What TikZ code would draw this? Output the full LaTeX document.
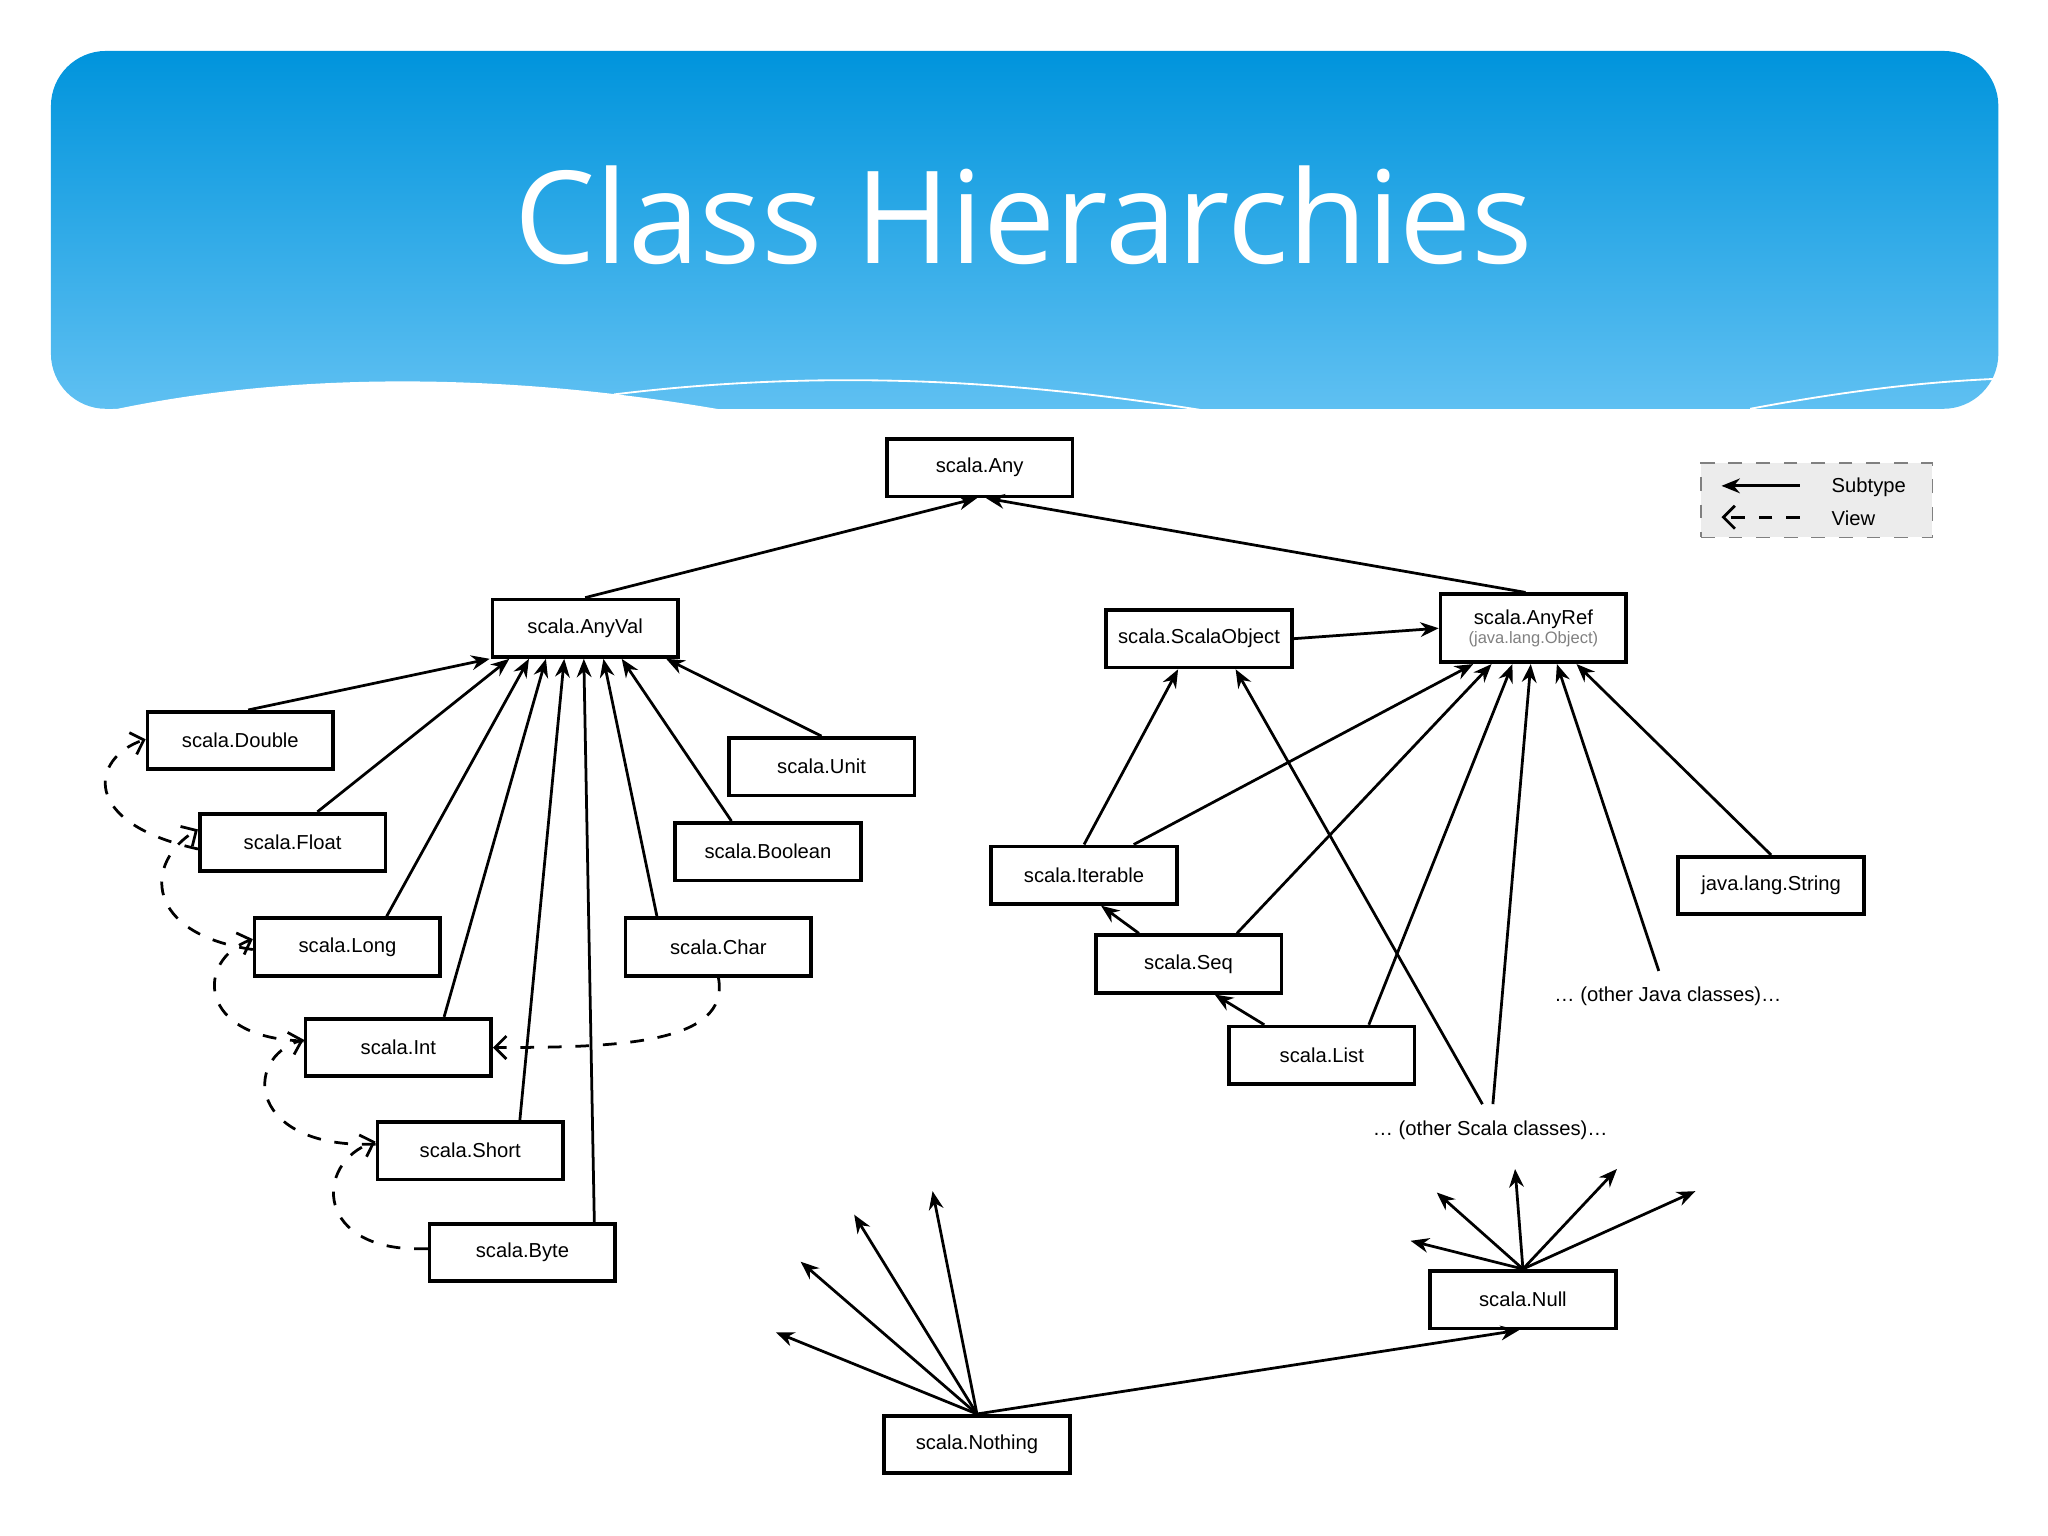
\documentclass[tikz,border=0pt]{standalone}
\usepackage{fontspec}
\setmainfont{Liberation Sans}
\newfontfamily\titlefont{Open Sans}
\usetikzlibrary{arrows.meta, positioning}
\begin{document}
\begin{tikzpicture}[x=0.01cm, y=-0.01cm, font=\fontsize{4.4}{5}\selectfont,
  cls/.style={draw, thick, minimum width=1.42cm, minimum height=0.44cm, inner sep=0pt, fill=white},
  sub/.style={-{Stealth[length=4pt,width=3.2pt]}, semithick},
  view/.style={-{Straight Barb[length=2.5pt]}, dashed, semithick}]
\useasboundingbox (0,0) rectangle (1568,1176);
% header band
\shade[top color={rgb,255:red,0;green,148;blue,220}, bottom color={rgb,255:red,95;green,192;blue,242}, rounded corners=12]
  (39,313) -- (39,39) -- (1530,39) -- (1530,313) -- cycle;
\fill[white] (39,315) -- (90,313) .. controls (250,280) and (420,290) .. (560,315) -- cycle;
\draw[white, thin] (470,302) .. controls (650,280) and (800,295) .. (920,314);
\draw[white, thin] (1340,313) .. controls (1420,298) and (1480,292) .. (1530,290);
\node[text=white, font=\titlefont\fontsize{28}{30}\selectfont] at (784,165) {Class Hierarchies};
% classes
\node[cls] (Any) at (750,358) {scala.Any};
\node[cls] (AnyVal) at (448,481) {scala.AnyVal};
\node[cls] (ScalaObject) at (918,489) {scala.ScalaObject};
\node[cls, minimum height=0.52cm, align=center] (AnyRef) at (1174,481) {scala.AnyRef\\[-1pt]{\fontsize{3.6}{4}\selectfont\color{gray}(java.lang.Object)}};
\node[cls] (Double) at (184,567) {scala.Double};
\node[cls] (Float) at (224,645) {scala.Float};
\node[cls] (Unit) at (629,587) {scala.Unit};
\node[cls] (Boolean) at (588,652) {scala.Boolean};
\node[cls] (Long) at (266,725) {scala.Long};
\node[cls] (Char) at (550,725) {scala.Char};
\node[cls] (Int) at (305,802) {scala.Int};
\node[cls] (Short) at (360,881) {scala.Short};
\node[cls] (Byte) at (400,959) {scala.Byte};
\node[cls] (Iterable) at (830,670) {scala.Iterable};
\node[cls] (Seq) at (910,738) {scala.Seq};
\node[cls] (List) at (1012,808) {scala.List};
\node[cls] (String) at (1356,678) {java.lang.String};
\node[cls] (Null) at (1166,995) {scala.Null};
\node[cls] (Nothing) at (748,1106) {scala.Nothing};
\node (OtherJava) at (1277,763) {\dots\ (other Java classes)\dots};
\node (OtherScala) at (1141,865) {\dots\ (other Scala classes)\dots};
% legend
\node[draw=gray, dashed, fill=gray!15, minimum width=1.77cm, minimum height=0.57cm] (Legend) at (1391,383) {};
\coordinate (LegA) at (1378,372);
\coordinate (LegB) at (1318,372);
\coordinate (LegC) at (1378,396);
\coordinate (LegD) at (1318,396);
\draw[sub] (LegA) -- (LegB);
\draw[view] (LegC) -- (LegD);
\node[anchor=west] (LegSub) at (1390,373) {Subtype};
\node[anchor=west] (LegView) at (1390,397) {View};
% subtype arrows
\draw[sub] (AnyVal.north) -- ([xshift=-0.02cm]Any.south);
\draw[sub] ([xshift=-0.06cm]AnyRef.north) -- ([xshift=0.05cm]Any.south);
\draw[sub] ([xshift=0.06cm]Double.north) -- ([xshift=-0.73cm]AnyVal.south);
\draw[sub] ([xshift=0.19cm]Float.north) -- ([xshift=-0.58cm]AnyVal.south);
\draw[sub] ([xshift=0.30cm]Long.north) -- ([xshift=-0.43cm]AnyVal.south);
\draw[sub] ([xshift=0.35cm]Int.north) -- ([xshift=-0.30cm]AnyVal.south);
\draw[sub] ([xshift=0.38cm]Short.north) -- ([xshift=-0.16cm]AnyVal.south);
\draw[sub] ([xshift=0.55cm]Byte.north) -- ([xshift=-0.01cm]AnyVal.south);
\draw[sub] ([xshift=-0.47cm]Char.north) -- ([xshift=0.14cm]AnyVal.south);
\draw[sub] ([xshift=-0.28cm]Boolean.north) -- ([xshift=0.28cm]AnyVal.south);
\draw[sub] (Unit.north) -- ([xshift=0.62cm]AnyVal.south);
\draw[sub] (ScalaObject.east) -- (AnyRef.west);
\draw[sub] (Iterable.north) -- ([xshift=-0.16cm]ScalaObject.south);
\draw[sub] ([xshift=0.38cm]Iterable.north) -- ([xshift=-0.46cm]AnyRef.south);
\draw[sub] ([xshift=0.37cm]Seq.north) -- ([xshift=-0.32cm]AnyRef.south);
\draw[sub] ([xshift=-0.38cm]Seq.north) -- ([xshift=0.13cm]Iterable.south);
\draw[sub] ([xshift=-0.44cm]List.north) -- ([xshift=0.20cm]Seq.south);
\draw[sub] ([xshift=0.36cm]List.north) -- ([xshift=-0.16cm]AnyRef.south);
\draw[sub] ([xshift=-0.06cm]OtherScala.north) -- ([xshift=0.28cm]ScalaObject.south);
\draw[sub] ([xshift=0.02cm]OtherScala.north) -- ([xshift=-0.02cm]AnyRef.south);
\draw[sub] ([xshift=-0.07cm]OtherJava.north) -- ([xshift=0.18cm]AnyRef.south);
\draw[sub] (String.north) -- ([xshift=0.33cm]AnyRef.south);
% null and nothing
\coordinate (NullA) at (1100,913);
\coordinate (NullB) at (1160,895);
\coordinate (NullC) at (1238,895);
\coordinate (NullD) at (1298,912);
\coordinate (NullE) at (1080,950);
\foreach \t in {NullA,NullB,NullC,NullD,NullE}
  \draw[sub] (Null.north) -- (\t);
\coordinate (NothA) at (594,1020);
\coordinate (NothB) at (613,966);
\coordinate (NothC) at (654,930);
\coordinate (NothD) at (714,912);
\foreach \t in {NothA,NothB,NothC,NothD}
  \draw[sub] (Nothing.north) -- (\t);
\draw[sub] (Nothing.north) -- ([xshift=-0.03cm]Null.south);
% view arrows
\draw[view] ([yshift=-0.05cm]Float.west) .. controls (60,630) and (70,580) .. ([yshift=0.01cm]Double.west);
\draw[view] ([yshift=-0.02cm]Long.west) .. controls (110,715) and (110,660) .. ([yshift=0.10cm]Float.west);
\draw[view] ([yshift=0.05cm]Int.west) .. controls (150,795) and (150,735) .. ([yshift=0.06cm]Long.west);
\draw[view] ([yshift=0.05cm]Short.west) .. controls (190,880) and (185,810) .. ([yshift=0.06cm]Int.west);
\draw[view] ([yshift=0.03cm]Byte.west) .. controls (240,960) and (240,890) .. ([yshift=0.07cm]Short.west);
\draw[view] (Char.south) .. controls (560,800) and (470,802) .. (Int.east);
\end{tikzpicture}
\end{document}
